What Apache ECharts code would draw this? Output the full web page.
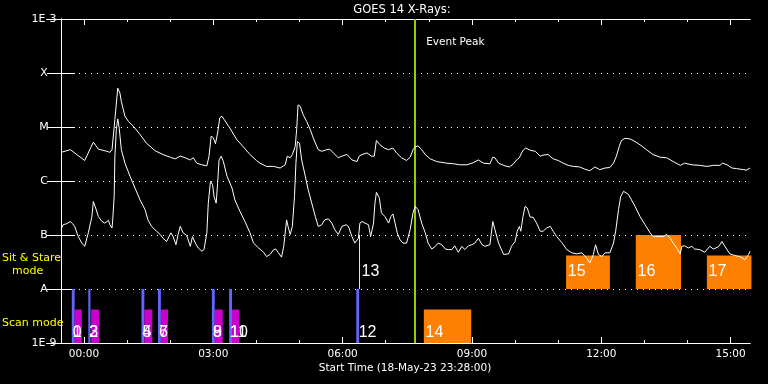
<!DOCTYPE html>
<html><head><meta charset="utf-8">
<script src="https://cdn.jsdelivr.net/npm/echarts@6/dist/echarts.min.js"></script>
<style>html,body{margin:0;padding:0;background:#000}#c{width:768px;height:384px}</style>
</head><body><div id="c"></div>
<script>
// Time axis: minutes elapsed since start time 18-May-23 23:28:00
const chartTitle = 'GOES 14 X-Rays:';
const xTitle = 'Start Time (18-May-23 23:28:00)';
const startClockMin = 23 * 60 + 28;
const timeMax = 959;
const majorTicks = [32, 212, 392, 572, 752, 932];
const minorTicks = [92, 152, 272, 332, 452, 512, 632, 692, 812, 872];
// y axis: log10 of flux (W/m^2), decades -9..-3
const yTickValues = [-9, -8, -7, -6, -5, -4, -3];
const yTickLabels = ['1E-9', 'A', 'B', 'C', 'M', 'X', '1E-3'];

// 1-8 A channel (upper curve): [minute, log10 flux]
const upperCurve = [[0,-5.47],[13,-5.42],[33,-5.62],[45,-5.28],[52,-5.41],[64,-5.45],[68,-5.47],[71,-5.42],[75,-4.86],[79,-4.28],[82,-4.37],[84,-4.53],[89,-4.80],[94,-4.90],[101,-4.99],[110,-5.14],[119,-5.30],[131,-5.44],[142,-5.51],[152,-5.56],[159,-5.59],[166,-5.54],[173,-5.57],[180,-5.61],[184,-5.57],[189,-5.67],[196,-5.70],[203,-5.72],[206,-5.54],[209,-5.17],[212,-5.20],[215,-5.31],[218,-5.11],[221,-4.83],[224,-4.80],[227,-4.86],[235,-5.02],[245,-5.24],[254,-5.37],[263,-5.51],[272,-5.62],[277,-5.67],[286,-5.73],[296,-5.73],[305,-5.76],[312,-5.70],[315,-5.54],[319,-5.57],[322,-5.51],[326,-5.36],[328,-5.05],[330,-4.59],[333,-4.62],[337,-4.77],[342,-4.90],[347,-5.05],[351,-5.20],[358,-5.42],[363,-5.45],[370,-5.42],[374,-5.41],[379,-5.48],[386,-5.57],[391,-5.54],[398,-5.51],[405,-5.61],[412,-5.64],[415,-5.54],[419,-5.51],[426,-5.48],[432,-5.54],[436,-5.54],[439,-5.25],[444,-5.33],[450,-5.39],[456,-5.42],[462,-5.39],[467,-5.48],[474,-5.57],[481,-5.62],[486,-5.56],[490,-5.42],[493,-5.37],[497,-5.35],[502,-5.42],[507,-5.51],[514,-5.59],[523,-5.64],[537,-5.67],[546,-5.68],[555,-5.70],[565,-5.70],[574,-5.66],[581,-5.61],[588,-5.67],[597,-5.68],[601,-5.56],[604,-5.57],[609,-5.67],[618,-5.72],[624,-5.74],[630,-5.68],[634,-5.61],[638,-5.57],[641,-5.48],[644,-5.42],[647,-5.39],[653,-5.43],[660,-5.45],[667,-5.54],[671,-5.52],[678,-5.51],[685,-5.59],[692,-5.62],[699,-5.67],[706,-5.71],[713,-5.73],[722,-5.74],[729,-5.78],[736,-5.81],[743,-5.74],[750,-5.79],[757,-5.76],[764,-5.75],[769,-5.67],[773,-5.54],[777,-5.36],[780,-5.25],[785,-5.21],[792,-5.22],[799,-5.27],[806,-5.33],[815,-5.42],[824,-5.51],[834,-5.56],[843,-5.57],[852,-5.64],[862,-5.71],[868,-5.67],[878,-5.70],[889,-5.71],[899,-5.73],[908,-5.71],[917,-5.71],[921,-5.67],[927,-5.70],[934,-5.76],[940,-5.77],[950,-5.79],[954,-5.80],[959,-5.76]];

// 0.5-4 A channel (lower curve): [minute, log10 flux]
const lowerCurve = [[0,-6.90],[3,-6.81],[8,-6.79],[13,-6.75],[16,-6.79],[19,-6.84],[24,-7.03],[29,-7.15],[33,-7.21],[38,-6.96],[43,-6.66],[45,-6.38],[49,-6.53],[52,-6.66],[57,-6.75],[61,-6.78],[66,-6.73],[68,-6.81],[71,-6.87],[72,-6.72],[74,-6.29],[75,-5.54],[77,-5.05],[79,-4.85],[81,-5.02],[84,-5.42],[89,-5.67],[96,-5.91],[103,-6.13],[110,-6.35],[117,-6.53],[121,-6.72],[126,-6.84],[133,-6.93],[138,-6.99],[142,-7.06],[147,-7.12],[153,-6.96],[156,-7.03],[160,-7.18],[163,-6.99],[166,-6.84],[170,-6.96],[175,-7.01],[180,-7.21],[183,-7.03],[187,-7.15],[191,-7.24],[196,-7.30],[199,-7.27],[203,-6.96],[205,-6.41],[208,-6.01],[211,-6.07],[213,-6.29],[216,-6.41],[218,-6.04],[220,-5.61],[223,-5.54],[226,-5.64],[231,-5.91],[238,-6.13],[242,-6.35],[249,-6.56],[256,-6.75],[263,-6.96],[268,-7.15],[275,-7.24],[277,-7.27],[282,-7.32],[286,-7.40],[291,-7.36],[296,-7.27],[299,-7.26],[302,-7.32],[307,-7.41],[310,-7.21],[314,-6.72],[316,-6.84],[319,-6.99],[322,-6.84],[325,-6.29],[327,-5.67],[329,-5.27],[332,-5.30],[335,-5.61],[340,-5.91],[344,-6.16],[349,-6.41],[354,-6.66],[358,-6.84],[363,-6.81],[367,-6.72],[372,-6.70],[377,-6.78],[381,-6.90],[386,-6.99],[391,-6.84],[397,-6.81],[400,-6.84],[405,-7.03],[409,-7.15],[414,-7.06],[416,-6.78],[419,-6.75],[423,-6.78],[428,-6.81],[431,-7.03],[435,-6.78],[437,-6.41],[439,-6.21],[443,-6.31],[446,-6.59],[451,-6.66],[456,-6.78],[459,-6.66],[462,-6.61],[465,-6.78],[468,-6.96],[472,-7.09],[476,-7.15],[481,-7.15],[486,-6.90],[490,-6.59],[493,-6.47],[497,-6.53],[502,-6.78],[507,-6.96],[511,-7.15],[516,-7.26],[521,-7.21],[525,-7.15],[530,-7.18],[535,-7.26],[539,-7.27],[544,-7.27],[548,-7.20],[553,-7.32],[558,-7.21],[562,-7.27],[567,-7.20],[572,-7.18],[576,-7.15],[581,-7.06],[586,-7.18],[590,-7.21],[597,-7.18],[601,-6.75],[604,-6.90],[609,-7.15],[616,-7.36],[623,-7.35],[627,-7.21],[632,-7.12],[635,-6.93],[638,-6.84],[640,-6.93],[643,-6.66],[646,-6.47],[649,-6.50],[653,-6.67],[657,-6.67],[662,-6.78],[667,-6.93],[671,-6.93],[676,-6.87],[681,-6.84],[685,-6.93],[690,-7.03],[697,-7.14],[704,-7.27],[711,-7.33],[718,-7.35],[725,-7.33],[732,-7.43],[736,-7.52],[741,-7.36],[744,-7.18],[748,-7.36],[753,-7.40],[757,-7.33],[764,-7.33],[769,-7.15],[772,-6.93],[776,-6.53],[779,-6.29],[783,-6.19],[790,-6.25],[794,-6.35],[799,-6.47],[806,-6.66],[813,-6.81],[820,-6.96],[824,-7.03],[831,-7.03],[838,-7.03],[843,-6.99],[848,-7.06],[852,-7.15],[857,-7.24],[862,-7.35],[864,-7.21],[868,-7.20],[873,-7.24],[878,-7.21],[882,-7.26],[889,-7.27],[896,-7.32],[903,-7.21],[908,-7.26],[915,-7.22],[920,-7.12],[924,-7.21],[931,-7.35],[938,-7.38],[945,-7.40],[952,-7.46],[957,-7.36],[959,-7.30]];

// Observation events: [start minute, end minute]
const scanBlue = [[15,19],[38,41],[112,116],[135,139],[210,214],[234,238],[411,415]];
const scanMagenta = [[19,29],[42,53],[116,127],[139,149],[214,225],[238,248]];
const scanOrange = [[505,571]];
const sitOrange = [[703,764],[800,863],[899,961]];
const sitOrangeTop = [-7.38, -7.0, -7.38];
const scanBarTop = -8.38;
const sitLine = [416];
const eventPeak = 493;

const scanLabelText = ['0','1','2','3','4','5','6','7','8','9','10','11','12','14'];
const scanLabelTime = [15,15,38,38,112,112,135,135,210,210,234,234,413,506];
const sitLabelText = ['13','15','16','17'];
const sitLabelTime = [417,704,801,900];
const scanLabelLevel = -8.81;
const sitLabelLevel = -7.68;

const FONT = '"DejaVu Sans", sans-serif';
const WHITE = '#ffffff';

function clock(v) {
  const m = ((startClockMin + Math.round(v)) % 1440 + 1440) % 1440;
  return String(Math.floor(m / 60)).padStart(2, '0') + ':' + String(m % 60).padStart(2, '0');
}

function rectSeries(items, color, z) {
  return {
    type: 'custom', silent: true, animation: false, z: z || 2, clip: false,
    data: items, encode: { x: [0, 1], y: [2, 3] },
    renderItem: function (p, api) {
      const a = api.coord([api.value(0), api.value(3)]);
      const b = api.coord([api.value(1), api.value(2)]);
      return { type: 'rect', shape: { x: a[0], y: a[1], width: b[0] - a[0], height: b[1] - a[1] }, style: { fill: color } };
    }
  };
}
function vlineSeries(times, lo, hi, color, width) {
  return {
    type: 'custom', silent: true, animation: false, z: 3, clip: false,
    data: times.map(t => [t, lo, hi]), encode: { x: 0, y: [1, 2] },
    renderItem: function (p, api) {
      const a = api.coord([api.value(0), api.value(1)]);
      const b = api.coord([api.value(0), api.value(2)]);
      const x = width % 2 === 1 ? Math.floor(a[0]) + 0.5 : Math.round(a[0]);
      return { type: 'line', shape: { x1: x, y1: a[1], x2: x, y2: b[1] }, style: { stroke: color, lineWidth: width } };
    }
  };
}
function textSeries(times, level, texts, font, color, dx) {
  return {
    type: 'custom', silent: true, animation: false, z: 6, clip: false,
    data: times.map(t => [t, level]), encode: { x: 0, y: 1 },
    renderItem: function (p, api) {
      const a = api.coord([api.value(0), api.value(1)]);
      return { type: 'text', x: a[0] + dx, y: a[1], style: { text: texts[p.dataIndex], fill: color, font: font, align: 'left', verticalAlign: 'middle' } };
    }
  };
}

const xBase = { type: 'value', min: 0, max: timeMax, gridIndex: 0, splitLine: { show: false },
  axisLine: { show: true, lineStyle: { color: WHITE, width: 1 } } };

const chart = echarts.init(document.getElementById('c'), null, { renderer: 'canvas' });
chart.setOption({
  backgroundColor: '#000000',
  animation: false,
  grid: { left: 61, top: 19, width: 689, height: 324, containLabel: false },
  xAxis: [
    Object.assign({}, xBase, { position: 'bottom',
      axisTick: { show: true, inside: true, length: 6, customValues: majorTicks, lineStyle: { color: WHITE } },
      axisLabel: { show: true, customValues: majorTicks, formatter: clock, color: WHITE, fontFamily: FONT, fontSize: 10.5, margin: 6 } }),
    Object.assign({}, xBase, { position: 'bottom',
      axisTick: { show: true, inside: true, length: 3, customValues: minorTicks, lineStyle: { color: WHITE } },
      axisLabel: { show: false } }),
    Object.assign({}, xBase, { position: 'top',
      axisTick: { show: true, inside: true, length: 6, customValues: majorTicks, lineStyle: { color: WHITE } },
      axisLabel: { show: false } }),
    Object.assign({}, xBase, { position: 'top',
      axisTick: { show: true, inside: true, length: 3, customValues: minorTicks, lineStyle: { color: WHITE } },
      axisLabel: { show: false } })
  ],
  yAxis: [
    { type: 'value', position: 'left', min: -9, max: -3, interval: 1,
      axisLine: { show: true, lineStyle: { color: WHITE } },
      axisTick: { show: true, inside: true, length: 14, lineStyle: { color: WHITE } },
      axisLabel: { show: true, color: WHITE, fontFamily: FONT, fontSize: 11, margin: 17, align: 'center',
        formatter: v => yTickLabels[yTickValues.indexOf(Math.round(v))] },
      splitLine: { show: true, lineStyle: { color: WHITE, width: 1, type: [1, 5] } } },
    { type: 'value', position: 'right', min: -9, max: -3, interval: 1,
      axisLine: { show: true, lineStyle: { color: WHITE } },
      axisTick: { show: true, inside: true, length: 14, lineStyle: { color: WHITE } },
      axisLabel: { show: false }, splitLine: { show: false } }
  ],
  graphic: [
    { type: 'text', x: 402, y: 10, style: { text: chartTitle, fill: WHITE, font: '11.5px ' + FONT, align: 'center', verticalAlign: 'middle' } },
    { type: 'text', x: 405, y: 368, style: { text: xTitle, fill: WHITE, font: '10.5px ' + FONT, align: 'center', verticalAlign: 'middle' } },
    { type: 'text', x: 2, y: 258, style: { text: 'Sit & Stare', fill: '#ffff00', font: '11px ' + FONT, align: 'left', verticalAlign: 'middle' } },
    { type: 'text', x: 12, y: 271, style: { text: 'mode', fill: '#ffff00', font: '11px ' + FONT, align: 'left', verticalAlign: 'middle' } },
    { type: 'text', x: 2, y: 323, style: { text: 'Scan mode', fill: '#ffff00', font: '11px ' + FONT, align: 'left', verticalAlign: 'middle' } }
  ],
  series: [
    rectSeries(scanBlue.map(e => [e[0], e[1], -9, -8]), '#6464ff', 2),
    rectSeries(scanMagenta.map(e => [e[0], e[1], -9, scanBarTop]), '#cc00cc', 2),
    rectSeries(scanOrange.map(e => [e[0], e[1], -9, scanBarTop]), '#ff8000', 2),
    rectSeries(sitOrange.map((e, i) => [e[0], e[1], -8, sitOrangeTop[i]]), '#ff8000', 2),
    vlineSeries(sitLine, -8, -7, '#ffff00', 1),
    vlineSeries([eventPeak], -9, -3, '#99cc00', 2),
    { type: 'line', data: upperCurve, showSymbol: false, symbol: 'none', z: 4, lineStyle: { color: WHITE, width: 1 }, silent: true },
    { type: 'line', data: lowerCurve, showSymbol: false, symbol: 'none', z: 4, lineStyle: { color: WHITE, width: 1 }, silent: true },
    textSeries(scanLabelTime, scanLabelLevel, scanLabelText, '16px "Liberation Sans", sans-serif', WHITE, 1),
    textSeries(sitLabelTime, sitLabelLevel, sitLabelText, '16px "Liberation Sans", sans-serif', WHITE, 1),
    textSeries([eventPeak], -3.43, ['Event Peak'], '10.5px ' + FONT, WHITE, 11)
  ]
});
</script></body></html>
